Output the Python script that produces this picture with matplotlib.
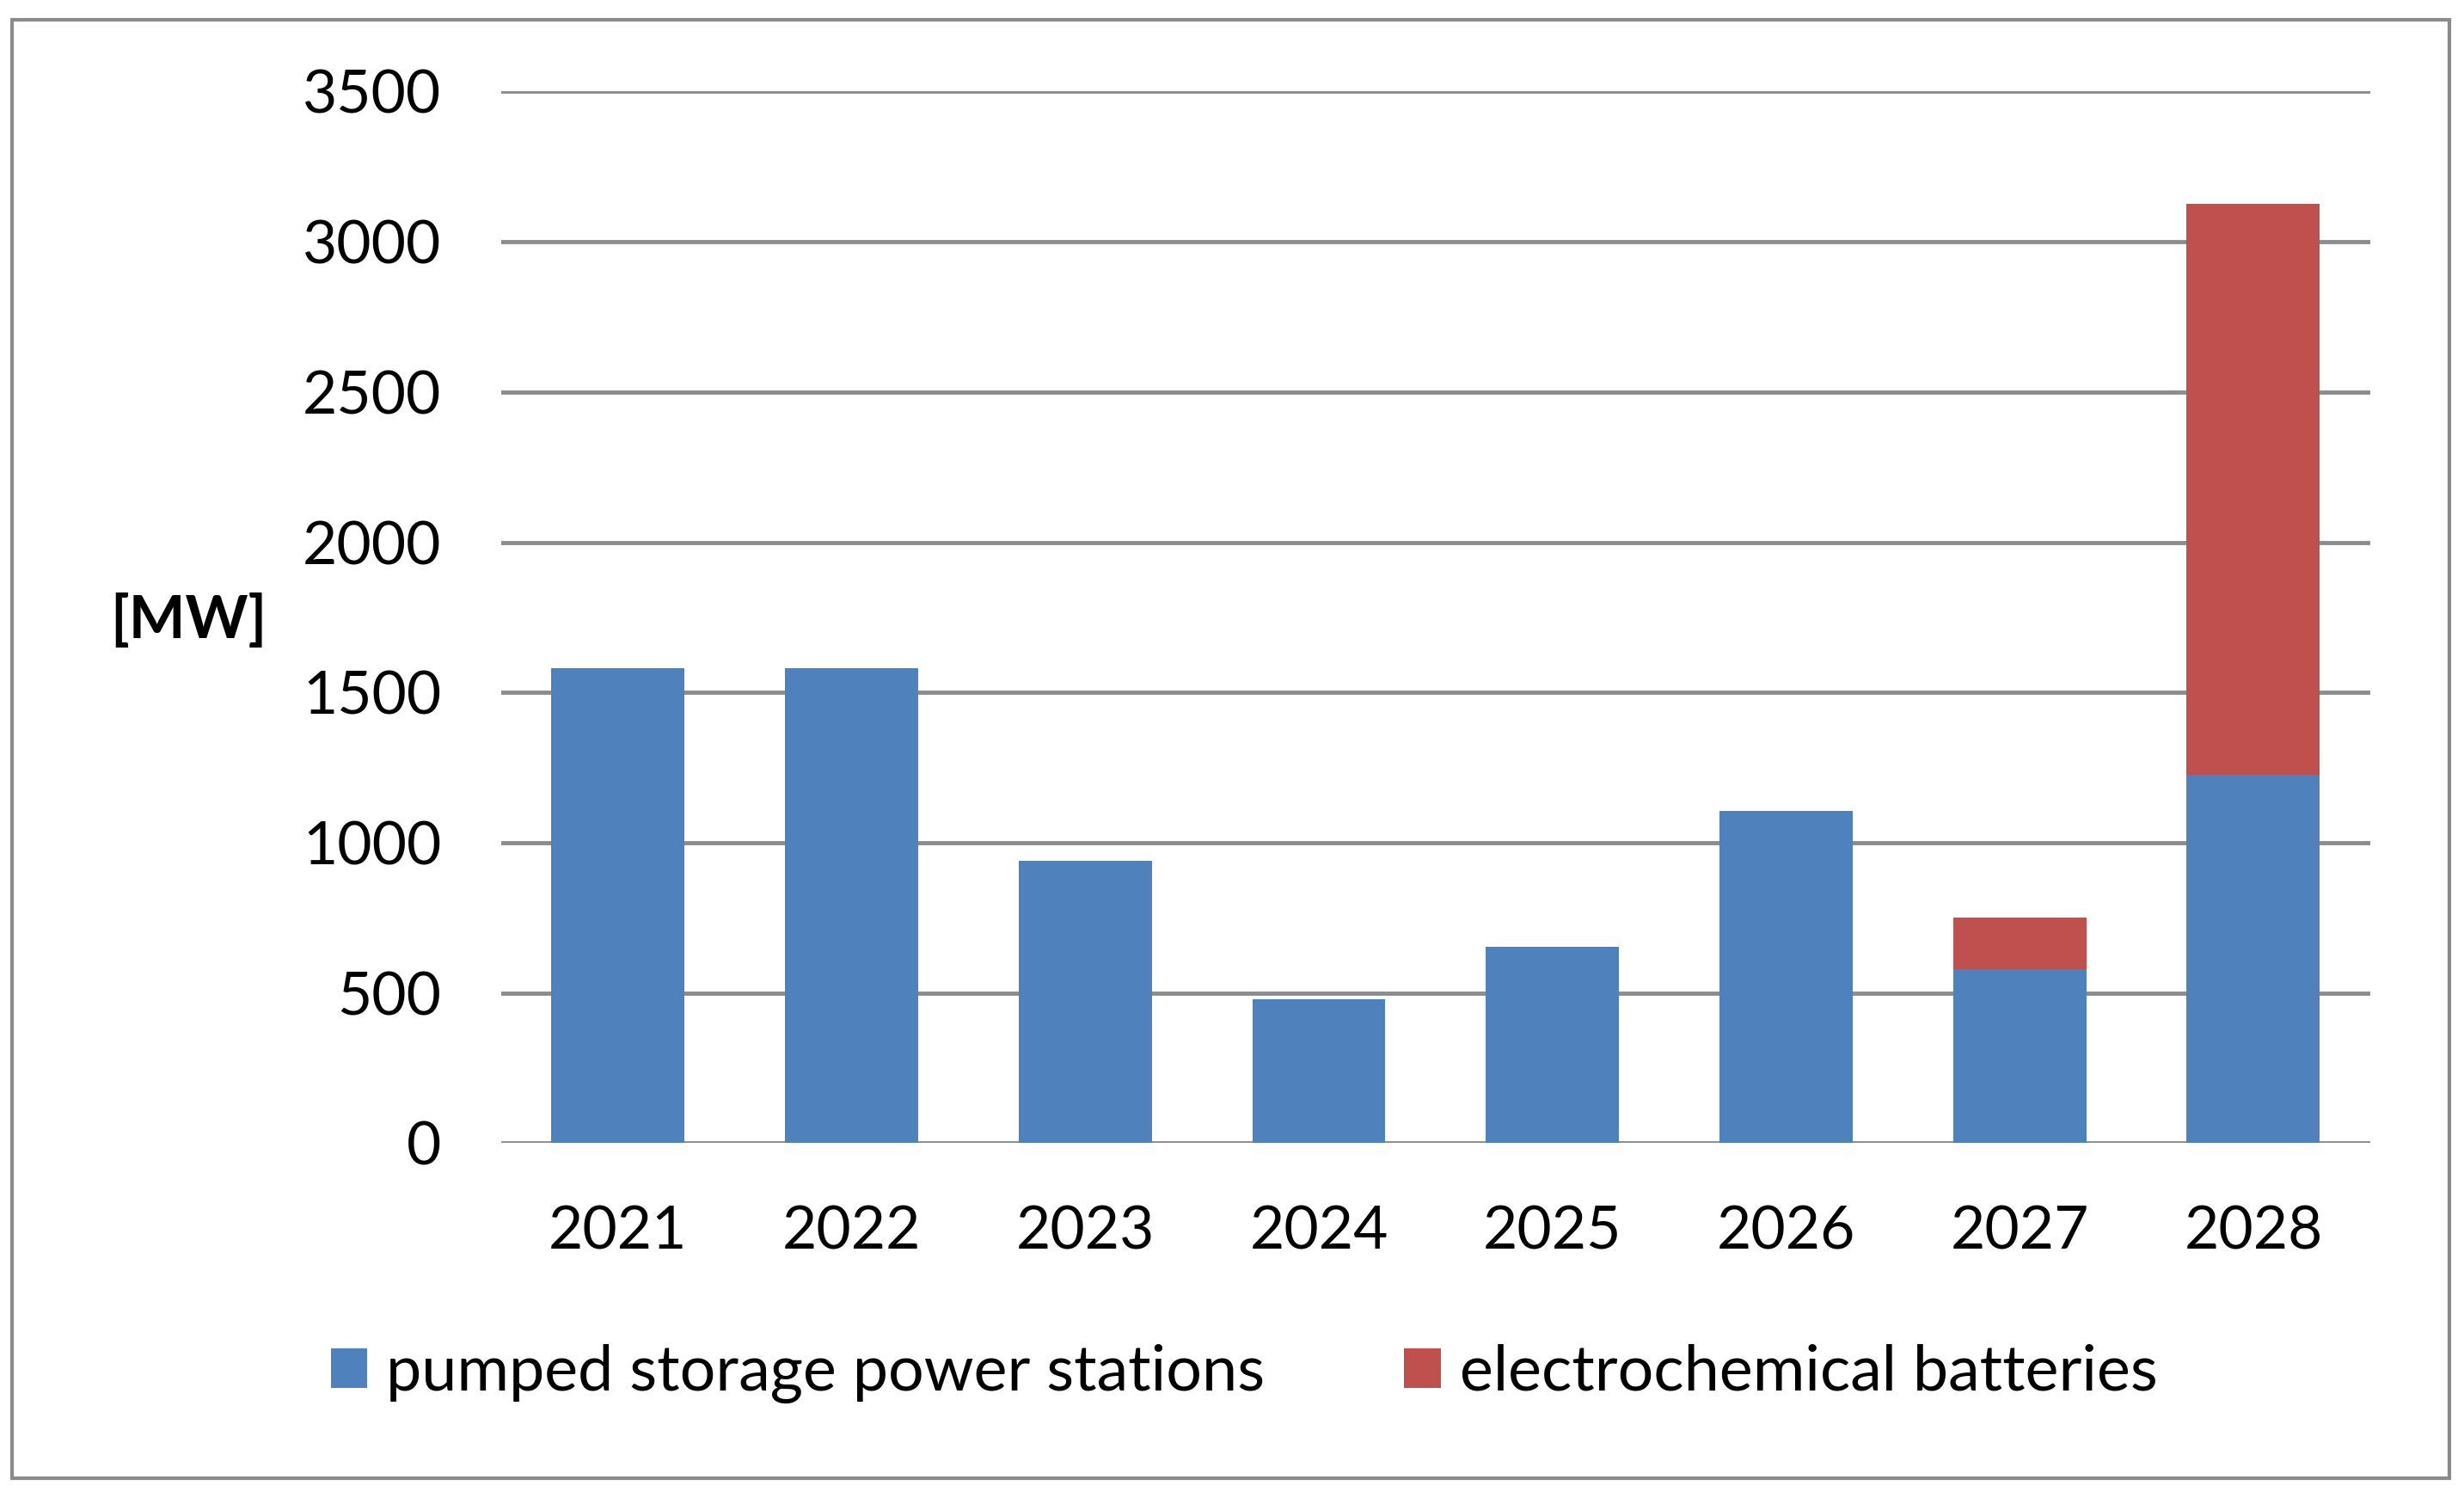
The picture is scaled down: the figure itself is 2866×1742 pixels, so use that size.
import matplotlib.pyplot as plt
import matplotlib.patches as mpatches
import numpy as np

plt.rcParams['font.family'] = ['Lato', 'DejaVu Sans']

years = ['2021', '2022', '2023', '2024', '2025', '2026', '2027', '2028']
pumped = [1580, 1580, 940, 480, 655, 1105, 580, 1225]
batteries = [0, 0, 0, 0, 0, 0, 170, 1900]

blue = '#4F81BD'
red = '#C0504D'
grid_col = '#8C8C8C'

fig = plt.figure(figsize=(28.66, 17.42), dpi=100)
ax = fig.add_axes([0.2034, 0.2368, 0.7585, 0.7022])

# outer frame around the whole chart
frame = mpatches.Rectangle((0.005, 0.013), 0.989, 0.974, transform=fig.transFigure,
                           fill=False, edgecolor='#8A8A8A', linewidth=3)
fig.patches.append(frame)

x = np.arange(len(years))
ax.bar(x, pumped, width=0.57, color=blue, label='pumped storage power stations', zorder=3)
ax.bar(x, batteries, width=0.57, bottom=pumped, color=red, label='electrochemical batteries', zorder=3)

ax.set_xlim(-0.5, len(years) - 0.5)
ax.set_ylim(0, 3500)
ax.set_yticks(np.arange(0, 3501, 500))
ax.yaxis.grid(True, color=grid_col, linewidth=3.5, zorder=0)
ax.set_axisbelow(True)
for s in ax.spines.values():
    s.set_visible(False)

ax.set_xticks(x)
ax.set_xticklabels(years)
ax.tick_params(axis='both', length=0, labelsize=50, colors='#000000')
ax.tick_params(axis='y', pad=50)
ax.tick_params(axis='x', pad=52)

fig.text(0.0765, 0.5855, '[MW]', fontsize=50, fontweight='bold', ha='center', va='center')

fig.legend(loc='center', bbox_to_anchor=(0.505, 0.083), ncol=2, frameon=False,
           fontsize=53, handlelength=0.58, handleheight=0.58, handletextpad=0.3,
           columnspacing=2.2)

fig.savefig('out.png', dpi=100)
